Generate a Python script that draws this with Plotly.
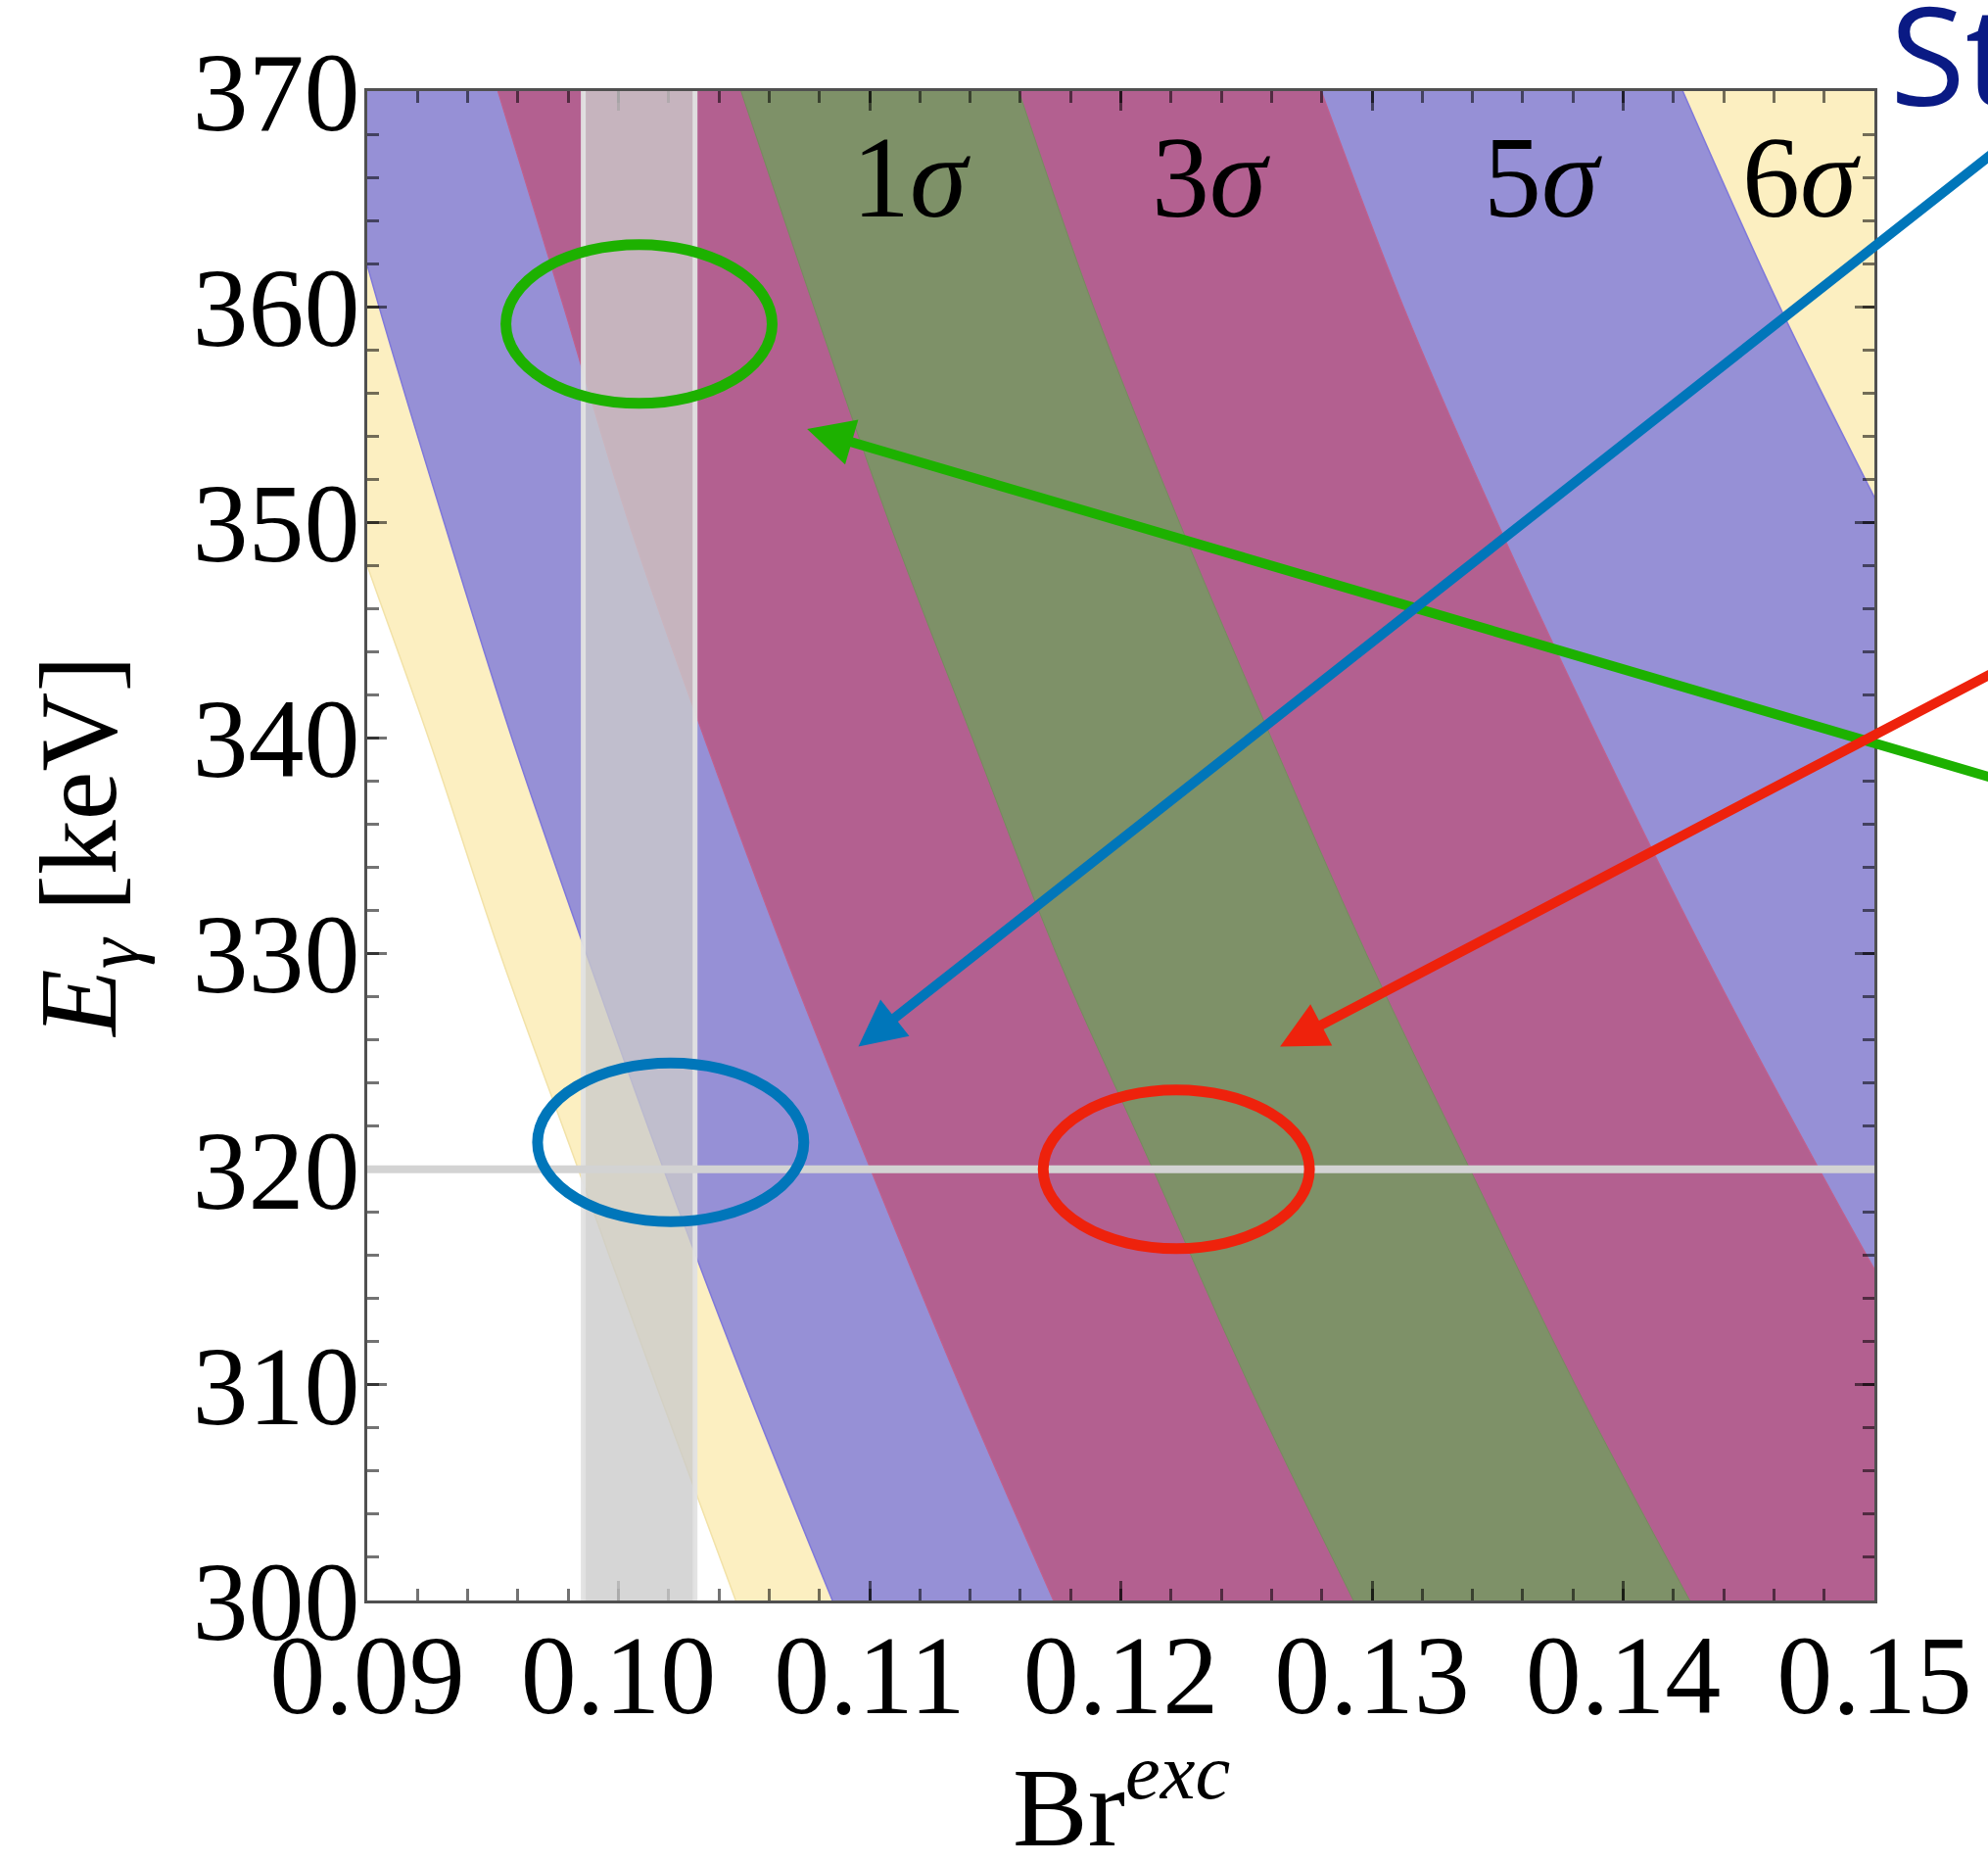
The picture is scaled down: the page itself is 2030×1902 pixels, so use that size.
import plotly.graph_objects as go

# ---------------- data ----------------
E_levels = [300, 310, 320, 330, 340, 350, 360, 370]          # keV

# Br^exc position of each contour boundary at every E level
bound_6sig_left  = [0.10467, 0.10150, 0.09840, 0.09529, 0.09244, 0.08940, 0.08660, 0.08400]
bound_5sig_left  = [0.10852, 0.10506, 0.10180, 0.09872, 0.09576, 0.09306, 0.09047, 0.08810]
bound_3sig_left  = [0.11732, 0.11358, 0.11004, 0.10661, 0.10342, 0.10041, 0.09782, 0.09520]
bound_1sig_left  = [0.12926, 0.12510, 0.12128, 0.11743, 0.11409, 0.11078, 0.10778, 0.10488]
bound_1sig_right = [0.14265, 0.13809, 0.13390, 0.12977, 0.12599, 0.12233, 0.11891, 0.11594]
bound_3sig_right = [0.15760, 0.15260, 0.14780, 0.14323, 0.13899, 0.13498, 0.13125, 0.12798]
bound_5sig_right = [0.17400, 0.16900, 0.16400, 0.15930, 0.15480, 0.15050, 0.14623, 0.14237]

sigma_labels = ["1<i>σ</i>", "3<i>σ</i>", "5<i>σ</i>", "6<i>σ</i>"]
sigma_label_x = [0.11165, 0.12358, 0.13681, 0.14708]
sigma_label_E = 366.0

# excluded vertical band and reference horizontal line
band_x = [0.09860, 0.10305]
ref_E = 320

# ellipses (center Br, center E)
ellipse_cx = [0.10082, 0.10208, 0.12221]
ellipse_cy = [359.2, 321.25, 320.0]
ellipse_rx = 0.0053
ellipse_ry = 3.68

# arrows: head (Br, E) and tail (Br, E)
arrow_head_x = [0.10751, 0.10955, 0.12634]
arrow_head_E = [354.33, 325.69, 325.69]
arrow_tail_x = [0.1572, 0.1572, 0.1572]
arrow_tail_E = [337.29, 369.40, 344.53]

x_tick_vals = [0.09, 0.10, 0.11, 0.12, 0.13, 0.14, 0.15]
x_tick_text = ["0.09", "0.10", "0.11", "0.12", "0.13", "0.14", "0.15"]
y_tick_vals = [300, 310, 320, 330, 340, 350, 360, 370]
y_tick_text = ["300", "310", "320", "330", "340", "350", "360", "370"]

x_title = "Br<sup><i>exc</i></sup>"
y_title = "<i>E</i><sub><i>γ</i></sub> [keV]"

# ---------------- styles ----------------
YELLOW = "#FCEFC1"
PURPLE = "#9690D6"
MAGENTA = "#B36090"
GREEN = "#7E9168"
KEY_GREEN = "#1DB100"
KEY_BLUE = "#0076BA"
KEY_RED = "#EE220C"
NAVY = "#0A1A84"
SERIF = "Liberation Serif"

fig = go.Figure()

def boundary(xs, fill=None, fillcolor=None, linecolor="rgba(0,0,0,0)", lw=0):
    fig.add_trace(go.Scatter(
        x=xs, y=E_levels, mode="lines",
        line=dict(shape="spline", smoothing=1.0, width=lw, color=linecolor),
        fill=fill, fillcolor=fillcolor, hoverinfo="skip", showlegend=False))

# region beyond 6 sigma on the left: white (plot background is the 6 sigma yellow)
boundary(bound_6sig_left, fill="tozerox", fillcolor="white", linecolor="#F2E2A8", lw=1.5)
# 5 sigma band (purple)
boundary(bound_5sig_left, linecolor="#7F78DA", lw=1.5)
boundary(bound_5sig_right, fill="tonextx", fillcolor=PURPLE, linecolor="#7F78DA", lw=1.5)
# 3 sigma band (magenta)
boundary(bound_3sig_left, linecolor="#C0608E", lw=1.2)
boundary(bound_3sig_right, fill="tonextx", fillcolor=MAGENTA, linecolor="#C0608E", lw=1.2)
# 1 sigma band (green)
boundary(bound_1sig_left, linecolor="#768B5E", lw=1.0)
boundary(bound_1sig_right, fill="tonextx", fillcolor=GREEN, linecolor="#768B5E", lw=1.0)

shapes = []
# vertical grey band
shapes.append(dict(type="rect", xref="x", yref="y", x0=band_x[0], x1=band_x[1], y0=299, y1=371,
                   fillcolor="rgba(203,203,203,0.79)", line=dict(width=0), layer="above"))
for bx in band_x:
    shapes.append(dict(type="line", xref="x", yref="y", x0=bx, x1=bx, y0=299, y1=371,
                       line=dict(color="rgba(226,226,226,0.95)", width=5), layer="above"))
# horizontal reference line
shapes.append(dict(type="line", xref="x", yref="y", x0=0.09, x1=0.15, y0=ref_E, y1=ref_E,
                   line=dict(color="#D3D3D3", width=8), layer="above"))
# ellipses
ell_colors = [KEY_GREEN, KEY_BLUE, KEY_RED]
for cx, cy, col in zip(ellipse_cx, ellipse_cy, ell_colors):
    shapes.append(dict(type="circle", xref="x", yref="y",
                       x0=cx - ellipse_rx, x1=cx + ellipse_rx,
                       y0=cy - ellipse_ry, y1=cy + ellipse_ry,
                       line=dict(color=col, width=11), fillcolor="rgba(0,0,0,0)", layer="above"))

annotations = []
arrow_colors = [KEY_GREEN, KEY_BLUE, KEY_RED]
for hx, hy, tx, ty, col in zip(arrow_head_x, arrow_head_E, arrow_tail_x, arrow_tail_E, arrow_colors):
    annotations.append(dict(x=hx, y=hy, xref="x", yref="y", ax=tx, ay=ty, axref="x", ayref="y",
                            text="", showarrow=True, arrowhead=2, arrowsize=0.95, arrowwidth=10,
                            arrowcolor=col, standoff=0))
for lab, lx in zip(sigma_labels, sigma_label_x):
    annotations.append(dict(x=lx, y=sigma_label_E, xref="x", yref="y", text=lab, showarrow=False,
                            font=dict(family=SERIF, size=118, color="black"),
                            xanchor="center", yanchor="middle"))
annotations.append(dict(x=1.009, y=1.0255, xref="paper", yref="paper", text="St", showarrow=False,
                        font=dict(family="Open Sans", size=140, color=NAVY),
                        xanchor="left", yanchor="middle"))
# x-axis title
annotations.append(dict(x=0.5, y=-0.18, xref="paper", yref="paper", text=x_title, showarrow=False,
                        font=dict(family=SERIF, size=115, color="black"),
                        xanchor="center", yanchor="bottom"))

tick_col = "rgba(0,0,0,0.55)"
axis_common = dict(showline=True, linecolor="#505050", linewidth=2.5, mirror="ticks",
                   ticks="inside", ticklen=20, tickwidth=2.5, tickcolor=tick_col,
                   showgrid=False, zeroline=False, automargin=False,
                   tickfont=dict(family=SERIF, size=114, color="black"))

fig.update_layout(
    width=2030, height=1902,
    margin=dict(l=375, r=116, t=93, b=268, autoexpand=False),
    paper_bgcolor="white", plot_bgcolor=YELLOW,
    template="none",
    showlegend=False,
    shapes=shapes, annotations=annotations,
    xaxis=dict(range=[0.09, 0.15], tickvals=x_tick_vals, ticktext=x_tick_text,
               minor=dict(dtick=0.002, tick0=0.09, ticks="inside", ticklen=12, tickwidth=2.5, tickcolor=tick_col),
               ticklabelstandoff=-25,
               **axis_common),
    yaxis=dict(range=[300, 370], tickvals=y_tick_vals, ticktext=y_tick_text,
               minor=dict(dtick=2, tick0=300, ticks="inside", ticklen=12, tickwidth=2.5, tickcolor=tick_col),
               title=dict(text=y_title, font=dict(family=SERIF, size=112, color="black"), standoff=41),
               ticklabelstandoff=-18,
               **axis_common),
)

fig.write_html("out.html", config={"displayModeBar": False},
               post_script="document.body.style.margin='0px';")
